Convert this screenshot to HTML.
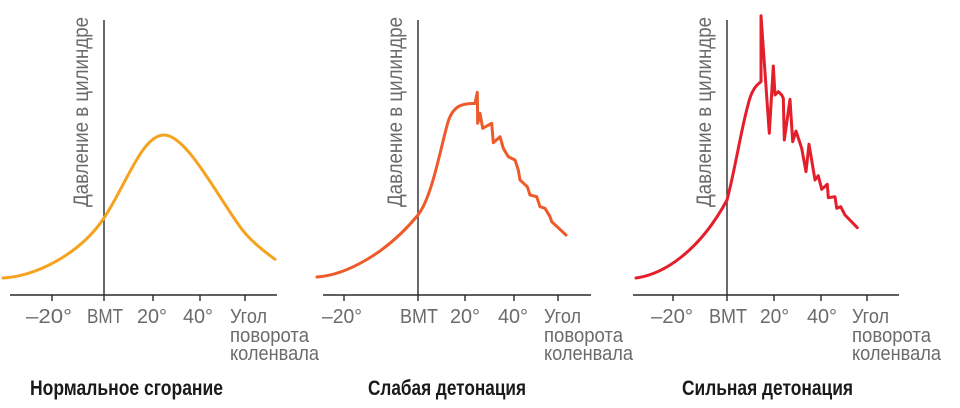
<!DOCTYPE html>
<html>
<head>
<meta charset="utf-8">
<style>
  html, body { margin:0; padding:0; background:#ffffff; }
  body { width:960px; height:408px; overflow:hidden; }
  svg { display:block; }
  .lbl { font-family:"Liberation Sans Narrow","Liberation Sans",sans-serif; font-size:20px; fill:#6b6b6b; }
  .ylbl { font-family:"Liberation Sans Narrow","Liberation Sans",sans-serif; font-size:21px; fill:#6b6b6b; }
  .ttl { font-family:"Liberation Sans Narrow","Liberation Sans",sans-serif; font-size:21px; font-weight:bold; fill:#1a1a1a; }
  .ax { stroke:#2a2a2a; stroke-width:1.4; fill:none; }
  .cv { fill:none; stroke-width:3; stroke-linejoin:round; stroke-linecap:round; }
</style>
</head>
<body>
<svg width="960" height="408" viewBox="0 0 960 408" xmlns="http://www.w3.org/2000/svg">

  <!-- ============ Panel 1 ============ -->
  <line class="ax" x1="10" y1="295" x2="277" y2="295"/>
  <line class="ax" x1="104" y1="20" x2="104" y2="301"/>
  <line class="ax" x1="52" y1="295" x2="52" y2="301"/>
  <line class="ax" x1="153" y1="295" x2="153" y2="301"/>
  <line class="ax" x1="200" y1="295" x2="200" y2="301"/>
  <line class="ax" x1="245" y1="295" x2="245" y2="301"/>
  <text class="ylbl" transform="translate(88,207) rotate(-90)" textLength="190" lengthAdjust="spacingAndGlyphs">Давление в цилиндре</text>
  <path class="cv" stroke="#F5A31F" d="M3,278 C33,277 79,255.5 104,218 C126,185 142,135 164,135 C186,135 215,192 240,226.7 C250,240.7 265,252 275,259.3"/>
  <text class="lbl" x="26" y="323" textLength="46" lengthAdjust="spacingAndGlyphs">–20°</text>
  <text class="lbl" x="87" y="323" textLength="36" lengthAdjust="spacingAndGlyphs">BMT</text>
  <text class="lbl" x="137" y="323" textLength="30" lengthAdjust="spacingAndGlyphs">20°</text>
  <text class="lbl" x="183" y="323" textLength="30" lengthAdjust="spacingAndGlyphs">40°</text>
  <text class="lbl" x="230" y="323" textLength="37" lengthAdjust="spacingAndGlyphs">Угол</text>
  <text class="lbl" x="230" y="342" textLength="79" lengthAdjust="spacingAndGlyphs">поворота</text>
  <text class="lbl" x="230" y="360" textLength="89" lengthAdjust="spacingAndGlyphs">коленвала</text>
  <text class="ttl" x="30" y="395" textLength="193" lengthAdjust="spacingAndGlyphs">Нормальное сгорание</text>

  <!-- ============ Panel 2 ============ -->
  <line class="ax" x1="323" y1="295" x2="591" y2="295"/>
  <line class="ax" x1="418" y1="20" x2="418" y2="301"/>
  <line class="ax" x1="344" y1="295" x2="344" y2="301"/>
  <line class="ax" x1="465" y1="295" x2="465" y2="301"/>
  <line class="ax" x1="514" y1="295" x2="514" y2="301"/>
  <line class="ax" x1="558" y1="295" x2="558" y2="301"/>
  <text class="ylbl" transform="translate(402,207) rotate(-90)" textLength="190" lengthAdjust="spacingAndGlyphs">Давление в цилиндре</text>
  <path class="cv" stroke="#EE5A29" d="M317,277 C345,275 385,255 418,215 C432,197 440,150 448,122 C453,106 462,103 475,103.5 L477.3,92.3 L477.7,123.3 L480,113.3 L482.7,128.3 L491.7,123.3 L493.3,142.7 L500,136.7 L503.3,148.3 L508.3,156.7 L515,160 L518.3,170 L520,180 L527.3,186.7 L530,195 L536.7,196.7 L540,206.7 L545,208.3 L550,216.7 L551.7,221.7 L566,235"/>
  <text class="lbl" x="322" y="323" textLength="40" lengthAdjust="spacingAndGlyphs">–20°</text>
  <text class="lbl" x="400" y="323" textLength="38" lengthAdjust="spacingAndGlyphs">BMT</text>
  <text class="lbl" x="450" y="323" textLength="30" lengthAdjust="spacingAndGlyphs">20°</text>
  <text class="lbl" x="498" y="323" textLength="30" lengthAdjust="spacingAndGlyphs">40°</text>
  <text class="lbl" x="544" y="323" textLength="37" lengthAdjust="spacingAndGlyphs">Угол</text>
  <text class="lbl" x="544" y="342" textLength="79" lengthAdjust="spacingAndGlyphs">поворота</text>
  <text class="lbl" x="544" y="360" textLength="89" lengthAdjust="spacingAndGlyphs">коленвала</text>
  <text class="ttl" x="368" y="395" textLength="158" lengthAdjust="spacingAndGlyphs">Слабая детонация</text>

  <!-- ============ Panel 3 ============ -->
  <line class="ax" x1="633" y1="295" x2="899" y2="295"/>
  <line class="ax" x1="727" y1="20" x2="727" y2="301"/>
  <line class="ax" x1="673" y1="295" x2="673" y2="301"/>
  <line class="ax" x1="774" y1="295" x2="774" y2="301"/>
  <line class="ax" x1="821" y1="295" x2="821" y2="301"/>
  <line class="ax" x1="867" y1="295" x2="867" y2="301"/>
  <text class="ylbl" transform="translate(711,207) rotate(-90)" textLength="190" lengthAdjust="spacingAndGlyphs">Давление в цилиндре</text>
  <path class="cv" stroke="#E41E2A" d="M636,278 C665,274 700,250 727,200 C735,170 741,130 748,105 C751,92 755,86 761,81.7 L761,15.7 L769.3,133.3 L773.3,66 L775,95 L778.3,91.7 L781.7,95 L783.3,98.3 L784.3,140 L790,99.3 L792.7,141.7 L796,131 L801.7,148.3 L806,171.7 L809,144.3 L815,180 L818.3,175.7 L821.7,189.3 L827.3,184.3 L828.3,197.7 L835,196.7 L836.7,208.3 L840.7,206.7 L845,215 L857.3,227.7"/>
  <text class="lbl" x="651" y="323" textLength="42" lengthAdjust="spacingAndGlyphs">–20°</text>
  <text class="lbl" x="709" y="323" textLength="38" lengthAdjust="spacingAndGlyphs">BMT</text>
  <text class="lbl" x="760" y="323" textLength="29" lengthAdjust="spacingAndGlyphs">20°</text>
  <text class="lbl" x="807" y="323" textLength="30" lengthAdjust="spacingAndGlyphs">40°</text>
  <text class="lbl" x="852" y="323" textLength="37" lengthAdjust="spacingAndGlyphs">Угол</text>
  <text class="lbl" x="852" y="342" textLength="79" lengthAdjust="spacingAndGlyphs">поворота</text>
  <text class="lbl" x="852" y="360" textLength="89" lengthAdjust="spacingAndGlyphs">коленвала</text>
  <text class="ttl" x="682" y="395" textLength="171" lengthAdjust="spacingAndGlyphs">Сильная детонация</text>

</svg>
</body>
</html>
